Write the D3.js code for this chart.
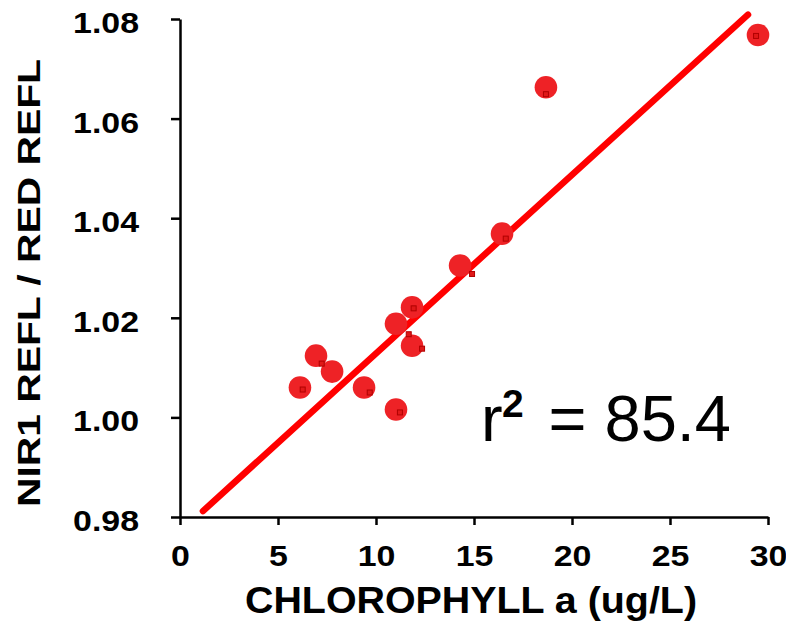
<!DOCTYPE html>
<html>
<head>
<meta charset="utf-8">
<script src="https://cdn.jsdelivr.net/npm/d3@7"></script>
<style>
  body { margin: 0; background: #fff; }
  text { font-family: "Liberation Sans", Arial, sans-serif; }
</style>
</head>
<body>
<div id="chart"></div>
<script>
// chlorophyll (ug/L) vs NIR1/RED reflectance ratio
var chlorophyll = [6.12, 6.94, 7.76, 9.39, 11.02, 11.02, 11.84, 11.84, 14.29, 16.43, 18.67, 29.49];
var ratio = [1.0060, 1.0124, 1.0092, 1.0060, 1.0016, 1.0188, 1.0221, 1.0144, 1.0305, 1.0369, 1.0663, 1.0768];

// the small square markers that sit next to the dots
var markerX = [6.26, 7.23, 9.68, 11.22, 11.92, 11.67, 12.35, 14.90, 16.62, 18.67, 29.39];
var markerY = [1.0056, 1.0108, 1.0050, 1.0010, 1.0219, 1.0167, 1.0138, 1.0288, 1.0359, 1.0649, 1.0766];

// fitted line: y = intercept + slope * x, drawn from fitX[0] to fitX[1]
var slope = 0.003585,
  intercept = 0.97699,
  fitX = [1.17, 28.98];

var xTicks = [0, 5, 10, 15, 20, 25, 30];
var yTicks = [0.98, 1.00, 1.02, 1.04, 1.06, 1.08];

(function() {
  var width = 786,
    height = 624;

  var svg = d3.select("#chart")
    .append("svg")
    .attr("width", width)
    .attr("height", height);

  var x = d3.scaleLinear().domain([0, 30]).range([180, 768]);
  var y = d3.scaleLinear().domain([0.98, 1.08]).range([517, 19]);

  // stretch text a bit, the original lettering is wider than Arial
  function widen(sel, k) {
    sel.each(function() {
      var w = this.getComputedTextLength();
      d3.select(this)
        .attr("textLength", w * k)
        .attr("lengthAdjust", "spacingAndGlyphs");
    });
  }

  var yAxis = svg.append("g")
    .attr("transform", "translate(" + x(0) + ",0)")
    .call(d3.axisLeft(y).tickValues(yTicks).tickSize(9).tickSizeOuter(0).tickPadding(32)
      .tickFormat(d3.format(".2f")));

  var xAxis = svg.append("g")
    .attr("transform", "translate(0," + y(0.98) + ")")
    .call(d3.axisBottom(x).tickValues(xTicks).tickSize(8).tickSizeOuter(0));

  [xAxis, yAxis].forEach(function(g) {
    g.select(".domain").attr("stroke", "#000").attr("stroke-width", 2.5);
    g.selectAll(".tick line").attr("stroke", "#000").attr("stroke-width", 2.5);
    g.selectAll("text")
      .attr("fill", "#000")
      .attr("font-size", 30)
      .attr("font-weight", "bold")
      .attr("font-family", "'Liberation Sans', Arial, sans-serif");
  });

  yAxis.selectAll("text").attr("dy", "0.45em");
  xAxis.selectAll("text").attr("y", 49).attr("dy", 0);
  widen(yAxis.selectAll("text"), 1.13);
  widen(xAxis.selectAll("text"), 1.13);

  // regression line
  svg.append("line")
    .attr("x1", x(fitX[0]))
    .attr("y1", y(intercept + slope * fitX[0]))
    .attr("x2", x(fitX[1]))
    .attr("y2", y(intercept + slope * fitX[1]))
    .attr("stroke", "#ff0000")
    .attr("stroke-width", 6.5)
    .attr("stroke-linecap", "round");

  svg.selectAll(".dot")
    .data(chlorophyll)
    .enter().append("circle")
    .attr("class", "dot")
    .attr("cx", function(d) { return x(d); })
    .attr("cy", function(d, i) { return y(ratio[i]); })
    .attr("r", 11.3)
    .attr("fill", "#ee2226");

  svg.selectAll(".marker")
    .data(markerX)
    .enter().append("rect")
    .attr("class", "marker")
    .attr("x", function(d) { return x(d) - 2.5; })
    .attr("y", function(d, i) { return y(markerY[i]) - 2.5; })
    .attr("width", 5)
    .attr("height", 5)
    .attr("fill", "#e01818")
    .attr("stroke", "#b00000")
    .attr("stroke-width", 1);

  // axis titles
  var xTitle = svg.append("text")
    .attr("x", 471)
    .attr("y", 613)
    .attr("text-anchor", "middle")
    .attr("font-size", 37)
    .attr("font-weight", "bold")
    .text("CHLOROPHYLL a (ug/L)");
  xTitle.attr("textLength", 452).attr("lengthAdjust", "spacingAndGlyphs");

  svg.append("text")
    .attr("transform", "translate(40,283) rotate(-90)")
    .attr("text-anchor", "middle")
    .attr("font-size", 30.5)
    .attr("font-weight", "bold")
    .attr("textLength", 448)
    .attr("lengthAdjust", "spacingAndGlyphs")
    .text("NIR1 REFL / RED REFL");

  // r squared label
  svg.append("text")
    .attr("x", 481)
    .attr("y", 441)
    .attr("font-size", 65)
    .text("r");
  svg.append("text")
    .attr("x", 502)
    .attr("y", 417)
    .attr("font-size", 39)
    .attr("font-weight", "bold")
    .text("2");

  svg.append("text")
    .attr("x", 731)
    .attr("y", 441)
    .attr("text-anchor", "end")
    .attr("font-size", 65)
    .text("= 85.4");
})();
</script>
</body>
</html>
